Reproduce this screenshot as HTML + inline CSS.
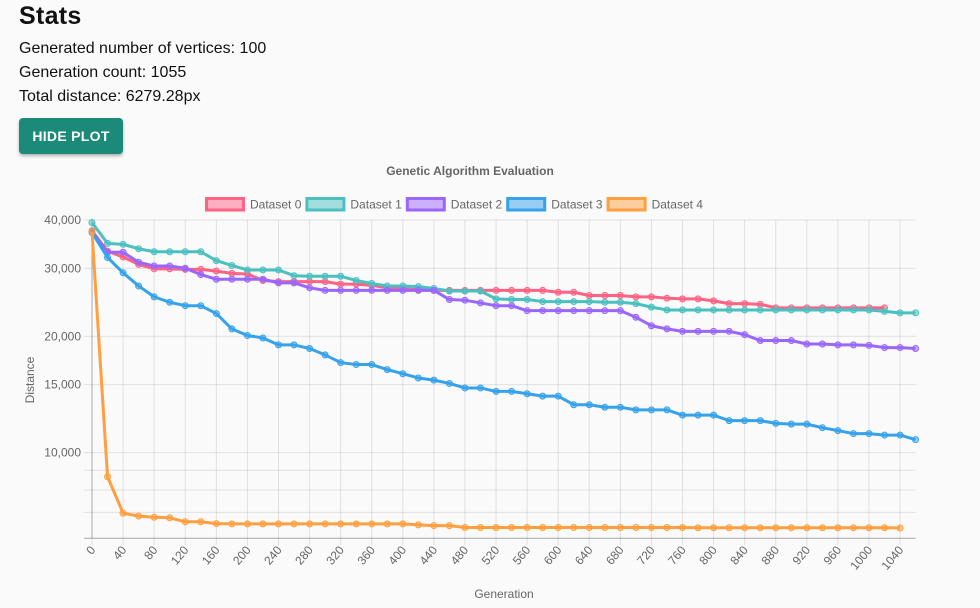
<!DOCTYPE html>
<html><head><meta charset="utf-8"><style>
body{margin:0;background:#fafafa;width:980px;height:608px;overflow:hidden;font-family:"Liberation Sans",sans-serif;color:#111}
h1{position:absolute;left:19px;top:2px;margin:0;font-size:25px;font-weight:bold;letter-spacing:0.3px}
.line{position:absolute;left:19px;font-size:16px}
#btn{position:absolute;left:19px;top:118px;width:104px;height:36px;background:#1b8a78;color:#fff;border:none;border-radius:4px;font:bold 14px "Liberation Sans",sans-serif;box-shadow:0 2px 3px rgba(0,0,0,.3);letter-spacing:0.3px}
svg{position:absolute;left:0;top:0}
</style></head><body>
<h1>Stats</h1>
<div class="line" style="top:40px">Generated number of vertices: 100</div>
<div class="line" style="top:64px">Generation count: 1055</div>
<div class="line" style="top:88px">Total distance: 6279.28px</div>
<button id="btn">HIDE PLOT</button>
<svg id="chart" width="980" height="608" style="top:160px;height:448px" viewBox="0 160 980 448"></svg>
<script>
const generations = Array.from({length:54},(_,i)=>i*20);
const tickValues = [40000,30000,20000,15000,10000];
const tickLabels = ["40,000","30,000","20,000","15,000","10,000"];
const minorValues = [9000,8000,7000,6000];
const seriesNames = ["Dataset 0","Dataset 1","Dataset 2","Dataset 3","Dataset 4"];
const dataset0 = [37500,33200,32100,30700,29900,29900,29800,29800,29500,29100,29000,27900,27700,27700,27700,27700,27300,27300,27100,26700,26600,26400,26300,26300,26300,26300,26300,26300,26300,26300,26000,26000,25500,25500,25500,25300,25300,25100,25000,25000,24700,24300,24300,24200,23700,23700,23700,23700,23700,23700,23700,23700];
const dataset1 = [39400,34800,34600,33700,33100,33100,33100,33100,31400,30500,29700,29700,29700,28700,28600,28600,28600,27900,27400,27000,27000,26900,26600,26200,26200,26200,25000,24900,24900,24600,24600,24600,24600,24500,24500,24300,23800,23400,23400,23400,23400,23400,23400,23400,23400,23400,23400,23400,23400,23400,23400,23200,23000,23000];
const dataset2 = [37300,33000,33000,31100,30400,30400,30000,28900,28100,28100,28100,28100,27500,27500,26700,26300,26300,26300,26300,26300,26300,26300,26300,24900,24800,24400,24000,24000,23300,23300,23300,23300,23300,23300,23300,22400,21300,20900,20600,20600,20600,20600,20200,19500,19500,19500,19100,19100,19000,19000,18950,18700,18700,18600];
const dataset3 = [37100,32000,29200,27000,25300,24500,24000,24000,22900,20900,20100,19800,19000,19000,18600,17900,17100,16900,16900,16400,16000,15600,15400,15100,14700,14700,14400,14400,14200,14000,14000,13300,13300,13100,13100,12900,12900,12900,12500,12500,12500,12100,12100,12100,11900,11850,11850,11600,11400,11200,11200,11100,11100,10800];
const dataset4 = [37300,8660,6970,6850,6800,6780,6620,6620,6550,6540,6540,6540,6540,6540,6540,6540,6540,6540,6540,6540,6540,6500,6470,6470,6400,6400,6400,6400,6400,6400,6400,6400,6400,6400,6400,6400,6400,6400,6400,6390,6390,6390,6390,6390,6390,6390,6390,6390,6390,6390,6390,6390,6380];
const allSeries=[dataset0,dataset1,dataset2,dataset3,dataset4];
const colors=["#ff6384","#4bc0c0","#9966ff","#36a2eb","#ff9f40"];
const fills=["rgba(255,99,132,0.5)","rgba(75,192,192,0.5)","rgba(153,102,255,0.5)","rgba(54,162,235,0.5)","rgba(255,159,64,0.5)"];
const X0=92,X1=915.6,YT=220,YB=538.3,VMAX=40000,VMIN=6000;
const xs=i=>X0+(X1-X0)*i/(generations.length-1);
const ys=v=>YT+(YB-YT)*(Math.log(VMAX)-Math.log(v))/(Math.log(VMAX)-Math.log(VMIN));
const svg=document.getElementById('chart');const NS="http://www.w3.org/2000/svg";
function mk(t,a,p){const e=document.createElementNS(NS,t);for(const k in a)e.setAttribute(k,a[k]);(p||svg).appendChild(e);return e;}
// grid
const grid=mk('g',{});


tickValues.concat(minorValues).forEach(v=>{mk('line',{x1:84,x2:X1,y1:ys(v),y2:ys(v),stroke:'rgba(0,0,0,0.1)','stroke-width':1},grid);});
generations.forEach((g,i)=>{if(i%2)return;mk('line',{x1:xs(i),x2:xs(i),y1:YT,y2:YB+7,stroke:'rgba(0,0,0,0.1)','stroke-width':1},grid);});
mk('line',{x1:X0,x2:X0,y1:YT,y2:YB,stroke:'rgba(0,0,0,0.25)'},grid);
mk('line',{x1:84,x2:X1,y1:YB,y2:YB,stroke:'rgba(0,0,0,0.25)'},grid);
// y labels
tickValues.forEach((v,k)=>{const t=mk('text',{x:81,y:ys(v)+4,'text-anchor':'end','font-size':12,fill:'#666'});t.textContent=tickLabels[k];

});
// x labels
generations.forEach((g,i)=>{if(i%2)return;const x=xs(i)+4,y=YB+12;const t=mk('text',{x:x,y:y,'text-anchor':'end','font-size':12,fill:'#666',transform:`rotate(-50 ${x} ${y})`});t.textContent=g;

});
// titles
let t=mk('text',{x:470,y:175,'text-anchor':'middle','font-size':12,'font-weight':'bold',fill:'#666'});t.textContent="Genetic Algorithm Evaluation";


t=mk('text',{x:504,y:598,'text-anchor':'middle','font-size':12,fill:'#666'});t.textContent="Generation";


t=mk('text',{x:34,y:380,'text-anchor':'middle','font-size':12,fill:'#666',transform:'rotate(-90 34 380)'});t.textContent="Distance";


// legend
seriesNames.forEach((n,k)=>{const lx=205+k*100.4;const g=mk('g',{});


mk('rect',{x:lx+1.5,y:198.5,width:37,height:11.5,fill:fills[k],stroke:colors[k],'stroke-width':3},g);
const tt=mk('text',{x:lx+45,y:208.5,'font-size':12,fill:'#666'},g);tt.textContent=n;});
// series
allSeries.forEach((d,k)=>{const g=mk('g',{});


mk('polyline',{points:d.map((v,i)=>xs(i)+','+ys(v)).join(' '),fill:'none',stroke:colors[k],'stroke-width':3,'stroke-linejoin':'round'},g);
d.forEach((v,i)=>{const c=mk('circle',{cx:xs(i),cy:ys(v),r:3,fill:fills[k],stroke:colors[k],'stroke-width':1},g);

});});
</script>
</body></html>
